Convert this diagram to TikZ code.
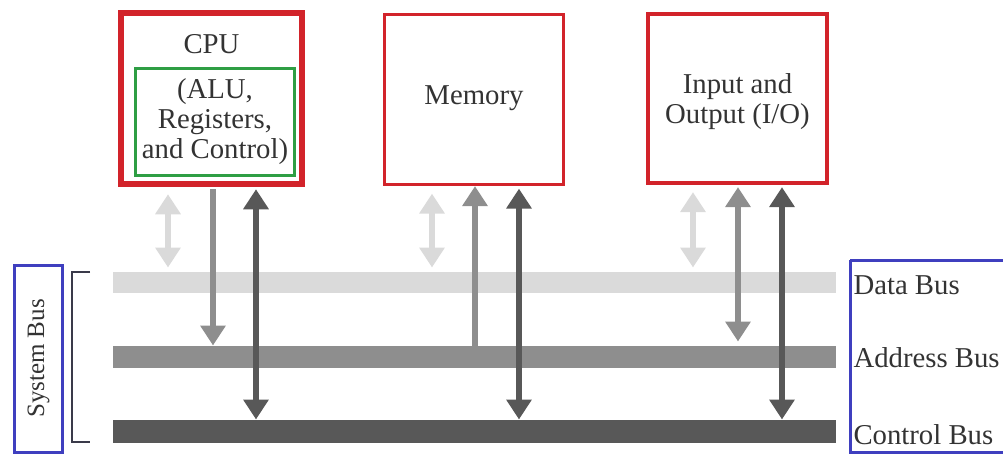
\documentclass[tikz,border=0pt]{standalone}
\usepackage{fontspec}
\setmainfont{Liberation Serif}
\usetikzlibrary{arrows.meta}
\definecolor{boxred}{HTML}{D2232A}
\definecolor{boxgreen}{HTML}{2E9E44}
\definecolor{boxblue}{HTML}{3F3FBF}
\definecolor{busl}{HTML}{DADADA}
\definecolor{busm}{HTML}{8E8E8E}
\definecolor{busd}{HTML}{585858}
\definecolor{brk}{HTML}{3A3A4A}
\begin{document}
\begin{tikzpicture}[x=0.4pt,y=-0.4pt,
  txt/.style={font=\fontsize{11.5}{12}\selectfont, text=black!80, align=center},
  unit/.style={draw=boxred, line width=1.3pt, minimum width=71.4pt, minimum height=68pt, inner sep=0pt},
  bus/.style={fill=#1, draw=none, minimum width=289.2pt, inner sep=0pt},
  dbl/.style={draw=#1, line width=2.5pt, {Triangle[width=9.8pt,length=8pt]}-{Triangle[width=9.8pt,length=8pt]}},
  sgl/.style={draw=#1, line width=2.5pt, -{Triangle[width=9.8pt,length=8pt]}},
  lbl/.style={font=\fontsize{11.5}{12}\selectfont, text=black!80, anchor=west, inner sep=0pt}]
\useasboundingbox (0,0) rectangle (1003,454);

% units
\node[unit, line width=2.2pt, minimum width=72.4pt, minimum height=68.4pt] (cpu) at (211.5,98.5) {};
\node[txt, anchor=base] (cputxt) at (211.5,53) {CPU};
\node[draw=boxgreen, line width=1.2pt, minimum width=63.4pt, minimum height=42.8pt, inner sep=0pt, txt] (alu) at (215,121.5) {(ALU,\\Registers,\\and Control)};
\node[unit] (mem) at (474,99.5) {};
\node[txt] (memtxt) at (474,98) {Memory};
\node[unit, minimum width=71.6pt, minimum height=67.6pt] (io) at (737.5,98.5) {};
\node[txt] (iotxt) at (737.5,102) {Input and\\Output (I/O)};

% buses
\node[bus=busl, minimum height=8.4pt] (data) at (474.5,282.5) {};
\node[bus=busm, minimum height=8.8pt] (addr) at (474.5,357) {};
\node[bus=busd, minimum height=9.2pt] (ctrl) at (474.5,431.5) {};

% arrow x positions
\coordinate (a1) at (168,0);
\coordinate (a2) at (213,0);
\coordinate (a3) at (256,0);
\coordinate (b1) at (432,0);
\coordinate (b2) at (475,0);
\coordinate (b3) at (519,0);
\coordinate (c1) at (693,0);
\coordinate (c2) at (738,0);
\coordinate (c3) at (782,0);

% CPU arrows
\draw[dbl=busl, shorten <=3pt, shorten >=1.6pt] (a1 |- cpu.south) -- (a1 |- data.north);
\draw[sgl=busm] ([yshift=-1pt]a2 |- cpu.south) -- (a2 |- addr.north);
\draw[dbl=busd, shorten <=1pt] (a3 |- cpu.south) -- (a3 |- ctrl.north);
% Memory arrows
\draw[dbl=busl, shorten <=3pt, shorten >=1.6pt] (b1 |- mem.south) -- (b1 |- data.north);
\draw[sgl=busm] (b2 |- addr.north) -- (b2 |- mem.south);
\draw[dbl=busd, shorten <=1pt] (b3 |- mem.south) -- (b3 |- ctrl.north);
% IO arrows
\draw[dbl=busl, shorten <=3pt, shorten >=1.6pt] (c1 |- io.south) -- (c1 |- data.north);
\draw[dbl=busm, shorten <=1pt, shorten >=1.6pt] (c2 |- io.south) -- (c2 |- addr.north);
\draw[dbl=busd, shorten <=1pt] (c3 |- io.south) -- (c3 |- ctrl.north);

% legend
\draw[boxblue, line width=1.2pt] (850,260) -- (1012,260) (850,260) -- (850,452) -- (1012,452);
\node[lbl] (ldata) at (853,285) {Data Bus};
\node[lbl] (laddr) at (853,358) {Address Bus};
\node[lbl] (lctrl) at (853,435) {Control Bus};

% system bus
\node[draw=boxblue, line width=1.2pt, minimum width=18.8pt, minimum height=74.8pt, inner sep=0pt] (sys) at (38.5,358.5) {};
\node[rotate=90, font=\fontsize{10}{12}\selectfont, text=black!80] (systxt) at (sys.center) {System Bus};
\coordinate (bt) at (90,272);
\coordinate (bb) at (90,442);
\draw[brk, line width=0.8pt] (bt) -- ++(-18,0) |- (bb);
\end{tikzpicture}
\end{document}
